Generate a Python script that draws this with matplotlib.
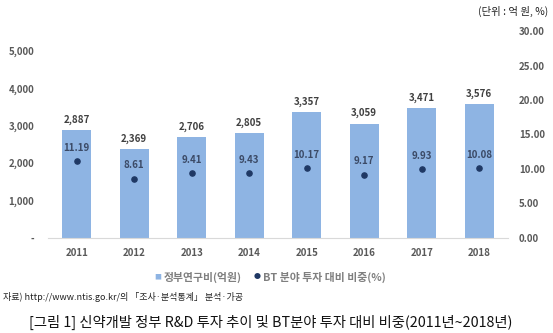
import matplotlib.pyplot as plt
import numpy as np

plt.rcParams['font.family'] = ['Noto Sans CJK KR', 'DejaVu Sans']

years = ['2011', '2012', '2013', '2014', '2015', '2016', '2017', '2018']
funding = [2887, 2369, 2706, 2805, 3357, 3059, 3471, 3576]
bt_share = [11.19, 8.61, 9.41, 9.43, 10.17, 9.17, 9.93, 10.08]
left_ticks = [0, 1000, 2000, 3000, 4000, 5000]
right_ticks = [0, 5, 10, 15, 20, 25, 30]

bar_color = '#8EB4E3'
dot_color = '#1F3864'
tick_color = '#595959'

fig = plt.figure(figsize=(5.53, 3.33), dpi=100)
ax = fig.add_axes([0.0868, 0.2853, 0.8318, 0.6216])
x = np.arange(len(years))

ax.bar(x, funding, width=0.5, color=bar_color, zorder=2)
for xi, v in zip(x, funding):
    ax.text(xi, v + 140, f'{v:,}', ha='center', va='bottom', fontsize=7,
            fontweight='bold', color='#404040')

ax.set_xlim(-0.5, len(years) - 0.5)
ax.set_ylim(0, 5535)
ax.set_yticks(left_ticks)
ax.set_yticklabels(['-' if t == 0 else f'{t:,}' for t in left_ticks])
ax.set_xticks(x)
ax.set_xticklabels(years)
for s in ['top', 'right', 'left']:
    ax.spines[s].set_visible(False)
ax.spines['bottom'].set_color('#D9D9D9')
ax.tick_params(axis='both', length=0, labelsize=7, colors=tick_color)
ax.tick_params(axis='y', pad=10)
ax.tick_params(axis='x', pad=7)
for lab in ax.get_xticklabels() + ax.get_yticklabels():
    lab.set_fontweight('bold')

ax2 = ax.twinx()
ax2.set_ylim(0, 30)
ax2.set_yticks(right_ticks)
ax2.set_yticklabels([f'{t:.2f}' for t in right_ticks])
ax2.scatter(x, bt_share, s=14, color=dot_color, zorder=3)
for xi, v in zip(x, bt_share):
    ax2.text(xi, v + 1.2, f'{v:.2f}', ha='center', va='bottom', fontsize=7,
             fontweight='bold', color='#3B4A66')
for s in ['top', 'right', 'left', 'bottom']:
    ax2.spines[s].set_visible(False)
ax2.tick_params(axis='y', length=0, labelsize=7, colors=tick_color, pad=8)
for lab in ax2.get_yticklabels():
    lab.set_fontweight('bold')

# legend row under the axis
ly = 1 - 277 / 333
fig.text(0.291, ly, '■', ha='right', va='center', fontsize=5, color=bar_color)
fig.text(0.296, ly, '정부연구비(억원)', ha='left', va='center', fontsize=7.8,
         color='#7F7F7F', fontweight='bold')
fig.text(0.471, ly, '●', ha='right', va='center', fontsize=5, color=dot_color)
fig.text(0.476, ly, 'BT 분야 투자 대비 비중(%)', ha='left', va='center',
         fontsize=7.8, color='#7F7F7F', fontweight='bold')

fig.text(0.992, 1 - 11 / 333, '(단위 : 억 원, %)', ha='right', va='center', fontsize=7.5,
         color='#222222')
fig.text(0.006, 1 - 297 / 333, '자료) http://www.ntis.go.kr/의 「조사·분석통계」 분석·가공',
         ha='left', va='center', fontsize=6.5, color='#222222')
fig.text(0.49, 1 - 322 / 333, '[그림 1] 신약개발 정부 R&D 투자 추이 및 BT분야 투자 대비 비중(2011년~2018년)',
         ha='center', va='center', fontsize=10.3, color='#111111')

fig.savefig('out.png', dpi=100)
